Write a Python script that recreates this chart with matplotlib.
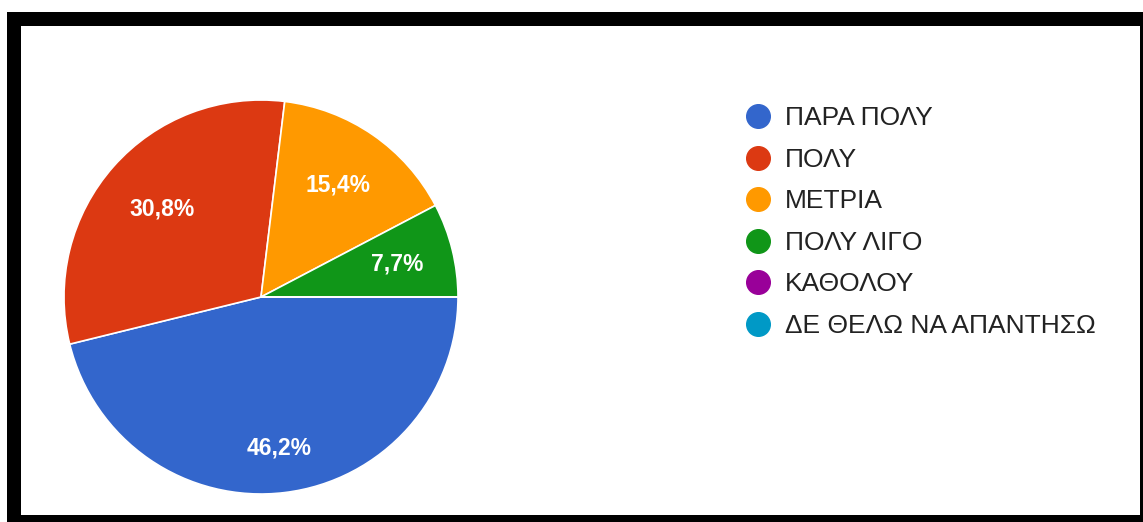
import matplotlib.pyplot as plt
from matplotlib.lines import Line2D
from matplotlib.patches import Rectangle

labels = ['ΠΑΡΑ ΠΟΛΥ', 'ΠΟΛΥ', 'ΜΕΤΡΙΑ', 'ΠΟΛΥ ΛΙΓΟ', 'ΚΑΘΟΛΟΥ', 'ΔΕ ΘΕΛΩ ΝΑ ΑΠΑΝΤΗΣΩ']
counts = [6, 4, 2, 1, 0, 0]
colors = ['#3366cc', '#dc3912', '#ff9900', '#109618', '#990099', '#0099c6']

plt.rcParams['font.family'] = ['Liberation Sans', 'DejaVu Sans']

W, H = 1143, 522
fig = plt.figure(figsize=(W / 100, H / 100), dpi=100)
fig.patch.set_facecolor('white')

# black frame of the screenshot
fig.patches.append(Rectangle((7 / W, 0), 1 - 7 / W, 510 / H, transform=fig.transFigure,
                             facecolor='black', edgecolor='none', zorder=-2))
fig.patches.append(Rectangle((21 / W, 7 / H), (1140 - 21) / W, 489 / H, transform=fig.transFigure,
                             facecolor='white', edgecolor='none', zorder=-1))

cx, cy, r = 261, 297, 197
ax = fig.add_axes([(cx - r) / W, (H - cy - r) / H, 2 * r / W, 2 * r / H])
ax.set_zorder(2)
ax.patch.set_alpha(0)


def fmt(pct):
    if pct < 0.5:
        return ''
    return f'{pct:.1f}%'.replace('.', ',')


wedges, texts, autotexts = ax.pie(counts, colors=colors, startangle=0, counterclock=False,
                                  autopct=fmt, pctdistance=0.72,
                                  wedgeprops=dict(edgecolor='white', linewidth=1.2),
                                  textprops=dict(color='white', fontsize=16.5, fontweight='bold'))
# google places the labels at slightly different radii
for t, d in zip(autotexts, [0.77, 0.67, 0.69, 0.71, 0.72, 0.72]):
    x, y = t.get_position()
    t.set_position((x * d / 0.72, y * d / 0.72))

ax.set_xlim(-1, 1)
ax.set_ylim(-1, 1)
ax.set_axis_off()

handles = [Line2D([], [], marker='o', linestyle='none', markersize=17,
                  markerfacecolor=c, markeredgecolor=c) for c in colors]
leg = fig.legend(handles, labels, loc='upper left', bbox_to_anchor=(730 / W, (H - 93) / H),
                 frameon=False, fontsize=19, labelspacing=0.665, handletextpad=0.42,
                 handlelength=1.15, borderpad=0, labelcolor='#222222')
leg.set_zorder(3)

fig.savefig('out.png', dpi=100, facecolor='white')
